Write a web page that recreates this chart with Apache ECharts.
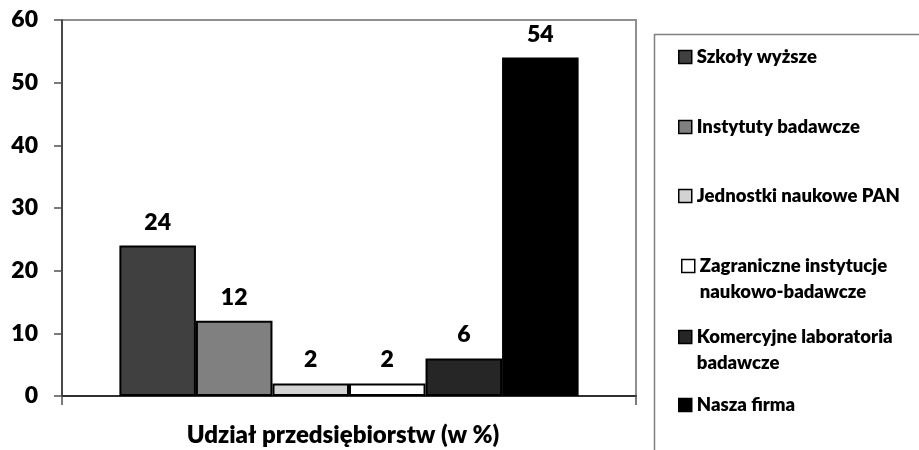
<!DOCTYPE html>
<html>
<head>
<meta charset="utf-8">
<script src="https://cdn.jsdelivr.net/npm/echarts@6/dist/echarts.min.js"></script>
<style>html,body{margin:0;padding:0;background:#fff;}#c{width:919px;height:450px;}</style>
</head>
<body>
<div id="c"></div>
<script>
var category = ['Udział przedsiębiorstw (w %)'];
var seriesNames = ['Szkoły wyższe', 'Instytuty badawcze', 'Jednostki naukowe PAN', 'Zagraniczne instytucje naukowo-badawcze', 'Komercyjne laboratoria badawcze', 'Nasza firma'];
var seriesValues = [24, 12, 2, 2, 6, 54];
var yTicks = [0, 10, 20, 30, 40, 50, 60];
var legendLabels = ['Szkoły wyższe', 'Instytuty badawcze', 'Jednostki naukowe PAN', 'Zagraniczne instytucje\nnaukowo-badawcze', 'Komercyjne laboratoria\nbadawcze', 'Nasza firma'];

var colors = ['#404040', '#808080', '#d3d3d3', '#ffffff', '#262626', '#000000'];
var FONT = 'Lato';
var WEIGHT = 800;

var legendCenters = [57, 127, 196, 266, 337, 405];
var legendLefts = [678, 678, 678, 681, 678, 678];

var legends = seriesNames.map(function (n, i) {
  var twoLine = legendLabels[i].indexOf('\n') >= 0;
  return {
    data: [n],
    left: legendLefts[i],
    top: twoLine ? legendCenters[i] - 39 : legendCenters[i] - 13,
    padding: 0,
    itemWidth: 13,
    itemHeight: 13,
    itemGap: 0,
    icon: 'rect',
    selectedMode: false,
    itemStyle: { borderColor: '#000', borderWidth: 1.5 },
    formatter: function () { return twoLine ? '\n' + legendLabels[i] : legendLabels[i]; },
    textStyle: {
      fontFamily: FONT, fontWeight: WEIGHT, fontSize: 18.5, color: '#000',
      lineHeight: 26
    }
  };
});

var series = seriesNames.map(function (n, i) {
  return {
    name: n,
    type: 'bar',
    data: [seriesValues[i]],
    barGap: '0%',
    barCategoryGap: '20%',
    itemStyle: { color: colors[i], borderColor: '#000', borderWidth: 2 },
    label: {
      show: true, position: 'top', distance: 12,
      fontFamily: FONT, fontWeight: WEIGHT, fontSize: 23, color: '#000'
    },
    emphasis: { disabled: true },
    animation: false
  };
});

var chart = echarts.init(document.getElementById('c'), null, { renderer: 'canvas' });
chart.setOption({
  animation: false,
  backgroundColor: '#fff',
  grid: {
    left: 62, right: 283, top: 20, bottom: 54,
    show: true, borderColor: '#909090', borderWidth: 2, backgroundColor: 'transparent'
  },
  legend: legends,
  xAxis: {
    type: 'category',
    data: category,
    axisLine: { lineStyle: { color: '#303030', width: 2 } },
    axisTick: { show: true, length: 9, lineStyle: { color: '#505050', width: 1.5 } },
    axisLabel: { margin: 27, padding: [0, 12, 0, 0], fontFamily: FONT, fontWeight: WEIGHT, fontSize: 24, color: '#000' }
  },
  yAxis: {
    type: 'value',
    min: yTicks[0], max: yTicks[yTicks.length - 1], interval: 10,
    axisLine: { show: true, lineStyle: { color: '#303030', width: 1.5 } },
    axisTick: { show: true, length: 8, lineStyle: { color: '#505050', width: 1.5 } },
    splitLine: { show: false },
    axisLabel: { margin: 24, fontFamily: FONT, fontWeight: WEIGHT, fontSize: 23, color: '#000' }
  },
  graphic: [{
    type: 'polyline',
    shape: { points: [[654.5, 450], [654.5, 34.5], [919, 34.5]] },
    style: { stroke: '#808080', lineWidth: 1.5, fill: null },
    silent: true
  }],
  series: series
});
</script>
</body>
</html>
